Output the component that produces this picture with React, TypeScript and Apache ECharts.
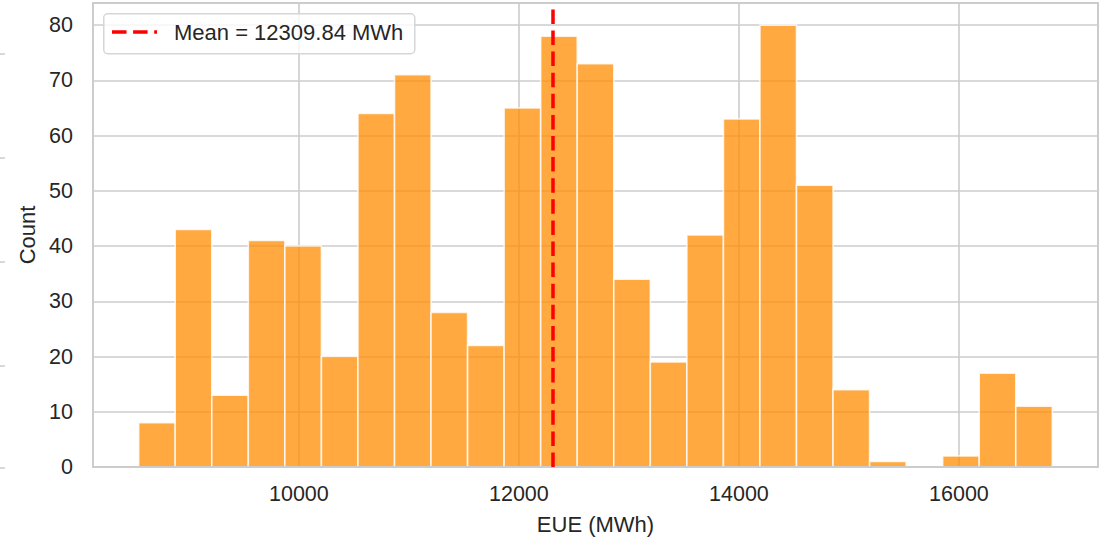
import React, { useEffect, useRef } from "react";
import * as echarts from "echarts";

// Histogram of expected unserved energy (EUE) across scenarios
const binStart = 8544; // MWh, left edge of the first bin
const binWidth = 332.2; // MWh per bin
const counts = [
  8, 43, 13, 41, 40, 20, 64, 71, 28, 22, 65, 78, 73, 34, 19, 42, 63, 80, 51, 14,
  1, 0, 2, 17, 11,
];
const meanEUE = 12309.84;
const xTicks = [10000, 12000, 14000, 16000];
const yTicks = [0, 10, 20, 30, 40, 50, 60, 70, 80];
const xLabel = "EUE (MWh)";
const yLabel = "Count";
const legendText = `Mean = ${meanEUE.toFixed(2)} MWh`;

const FONT = "'Liberation Sans', Arial, Helvetica, sans-serif";
const TEXT = "#262626";
const GRID = "#cccccc";

export default function App() {
  const ref = useRef<HTMLDivElement>(null);

  useEffect(() => {
    if (!ref.current) return;
    const chart = echarts.init(ref.current, null, { renderer: "svg" });

    const bins = counts.map((c, i) => [
      binStart + i * binWidth,
      binStart + (i + 1) * binWidth,
      c,
    ]);
    const lo = binStart;
    const hi = binStart + counts.length * binWidth;
    const pad = (hi - lo) * 0.05;
    const yMax = Math.max(...counts) * 1.05;

    const dash = [14.5, 6.6];

    chart.setOption({
      animation: false,
      backgroundColor: "#ffffff",
      textStyle: { fontFamily: FONT },
      grid: {
        left: 93,
        right: 17,
        top: 3,
        bottom: 77,
        show: true,
        borderColor: GRID,
        borderWidth: 2,
        backgroundColor: "transparent",
      },
      xAxis: {
        type: "value",
        min: lo - pad,
        max: hi + pad,
        name: xLabel,
        nameLocation: "middle",
        nameGap: 46,
        nameTextStyle: { color: TEXT, fontSize: 22, fontFamily: FONT },
        axisLine: { show: false },
        axisTick: { show: false, customValues: xTicks },
        axisLabel: {
          customValues: xTicks,
          formatter: (v: number) => String(v),
          color: TEXT,
          fontSize: 21.5,
          fontFamily: FONT,
          margin: 16,
        },
        splitLine: { show: true, lineStyle: { color: GRID, width: 1.6 } },
      },
      yAxis: {
        type: "value",
        min: 0,
        max: yMax,
        name: yLabel,
        nameLocation: "middle",
        nameGap: 54,
        nameTextStyle: { color: TEXT, fontSize: 22, fontFamily: FONT },
        axisLine: { show: false },
        axisTick: { show: false, customValues: yTicks },
        axisLabel: {
          customValues: yTicks,
          formatter: (v: number) => String(v),
          color: TEXT,
          fontSize: 21.5,
          fontFamily: FONT,
          margin: 20,
        },
        splitLine: { show: true, lineStyle: { color: GRID, width: 1.6 } },
      },
      series: [
        {
          type: "custom",
          z: 2,
          encode: { x: [0, 1], y: 2 },
          data: bins,
          renderItem: (params: any, api: any) => {
            const c = api.value(2);
            if (!c) return null;
            const p0 = api.coord([api.value(0), c]);
            const p1 = api.coord([api.value(1), 0]);
            return {
              type: "rect",
              shape: {
                x: p0[0],
                y: p0[1],
                width: p1[0] - p0[0],
                height: p1[1] - p0[1],
              },
              style: {
                fill: "rgba(255,140,0,0.75)",
                stroke: "rgba(255,255,255,0.8)",
                lineWidth: 1.6,
              },
            };
          },
        },
        {
          type: "line",
          z: 4,
          data: [],
          silent: true,
          markLine: {
            silent: true,
            symbol: "none",
            label: { show: false },
            data: [
              {
                yAxis: 0,
                lineStyle: { color: GRID, width: 2, type: "solid" },
              },
              {
                xAxis: meanEUE,
                lineStyle: { color: "#ff0000", width: 3.5, type: dash },
              },
            ],
          },
        },
      ],
      graphic: [
        // legend box
        {
          type: "rect",
          left: 103,
          top: 13,
          z: 10,
          shape: { width: 311, height: 40, r: 4 },
          style: {
            fill: "rgba(255,255,255,0.8)",
            stroke: "#d6d6d6",
            lineWidth: 1.5,
          },
        },
        {
          type: "line",
          z: 11,
          shape: { x1: 112, y1: 32, x2: 157, y2: 32 },
          style: { stroke: "#ff0000", lineWidth: 3.5, lineDash: dash },
        },
        {
          type: "text",
          z: 11,
          x: 174,
          y: 32,
          style: {
            text: legendText,
            fill: TEXT,
            fontSize: 22,
            fontFamily: FONT,
            verticalAlign: "middle",
            align: "left",
          },
        },
        // small tick marks at the page's left edge
        ...[54, 158, 262, 366, 468].map((y) => ({
          type: "line",
          z: 1,
          shape: { x1: 0, y1: y, x2: 5, y2: y },
          style: { stroke: GRID, lineWidth: 1.5 },
        })),
      ],
    });

    return () => chart.dispose();
  }, []);

  return (
    <div
      ref={ref}
      style={{
        position: "absolute",
        left: 0,
        top: 0,
        width: 1115,
        height: 544,
        background: "#fff",
      }}
    />
  );
}
